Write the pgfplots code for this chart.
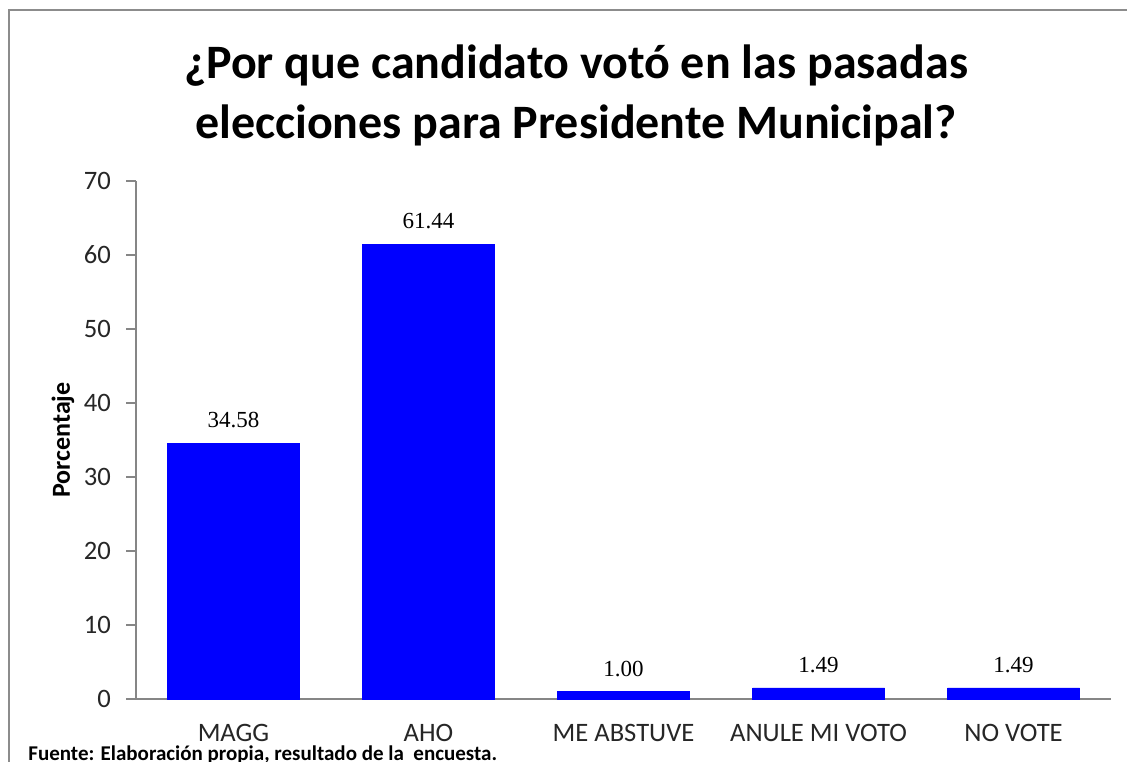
\documentclass[border=0pt]{standalone}
\usepackage{fontspec}
\setmainfont{Carlito}
\newfontfamily\labelfont{Liberation Serif}
\usepackage{pgfplots}
\pgfplotsset{compat=1.18}
\definecolor{axisgray}{RGB}{134,134,134}
\definecolor{framegray}{RGB}{140,140,140}

\begin{document}
% 1 px of the reference = 0.5pt
\begin{tikzpicture}
  \useasboundingbox (0,0) rectangle (563.5pt,380.5pt);
  % chart frame (left and top only visible)
  \draw[framegray, line width=1.2pt] (4.5pt,-5pt) -- (4.5pt,375.5pt) -- (570pt,375.5pt);

  % title
  \node[font=\fontsize{24}{30}\selectfont\bfseries, align=center]
    at (288pt,333pt) {¿Por que candidato votó en las pasadas\\elecciones para Presidente Municipal?};

  \begin{axis}[
      at={(68pt,31pt)}, anchor=south west,
      scale only axis,
      width=487.5pt, height=259pt,
      ymin=0, ymax=70,
      xmin=-0.5, xmax=4.5,
      ytick={0,10,...,70},
      xtick={0,1,2,3,4},
      xticklabels={MAGG, AHO, ME ABSTUVE, ANULE MI VOTO, NO VOTE},
      axis x line=bottom, axis y line=left,
      axis line style={axisgray, line width=0.8pt, -},
      y tick style={axisgray, line width=0.8pt},
      x tick style={draw=none},
      tick align=outside,
      major tick length=5pt,
      tick label style={font=\fontsize{13.3}{15}\selectfont, color=black!85},
      /pgf/number format/assume math mode=true,
      xticklabel style={yshift=-4pt},
      yticklabel style={xshift=-4pt},
      ylabel={\bfseries Porcentaje},
      ylabel style={font=\fontsize{13}{15}\selectfont, yshift=-2pt},
      ybar, bar width=66pt,
      nodes near coords,
      nodes near coords style={font=\labelfont\fontsize{11.5}{13}\selectfont, color=black, yshift=4pt,
        /pgf/number format/.cd, fixed, fixed zerofill, precision=2},
      clip=false,
    ]
    \addplot[fill={rgb,255:red,0;green,0;blue,255}, draw={rgb,255:red,0;green,0;blue,255}]
      coordinates {(0,34.58) (1,61.44) (2,1.00) (3,1.49) (4,1.49)};
  \end{axis}

  % source note
  \node[anchor=base west, font=\fontsize{10.5}{12}\selectfont\bfseries, inner sep=0pt]
    at (14pt,0.5pt) {Fuente: Elaboración propia, resultado de la\ \ encuesta.};
\end{tikzpicture}
\end{document}
